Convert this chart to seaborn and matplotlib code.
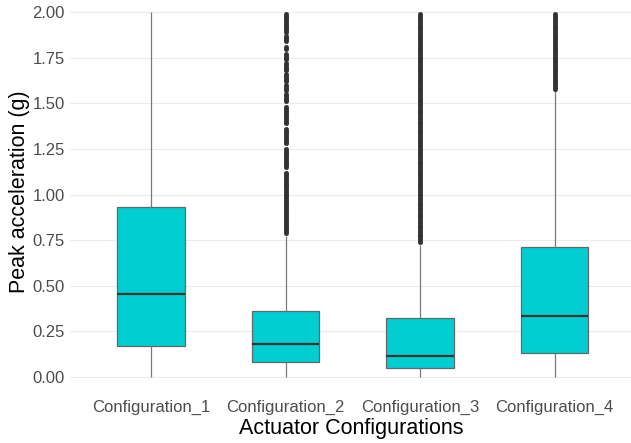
import numpy as np
import pandas as pd
import matplotlib
matplotlib.use("Agg")
import matplotlib.pyplot as plt
import seaborn as sns

# ---- data ----
categories = ["Configuration_1", "Configuration_2", "Configuration_3", "Configuration_4"]
whisker_low = [0.0, 0.0, 0.0, 0.0]
q1 = [0.171, 0.080, 0.051, 0.133]
medians = [0.455, 0.181, 0.117, 0.334]
q3 = [0.932, 0.362, 0.323, 0.711]
whisker_high = [2.00, 0.775, 0.725, 1.570]

fliers_1 = []
fliers_2 = [0.79, 0.80, 0.81, 0.82, 0.83, 0.84, 0.85, 0.86, 0.87, 0.88, 0.89,
            0.90, 0.91, 0.92, 0.93, 0.94, 0.95, 0.96, 0.97, 0.98, 0.99, 1.00,
            1.01, 1.02, 1.03, 1.04, 1.05, 1.06, 1.07, 1.08, 1.09, 1.10, 1.11,
            1.12, 1.15, 1.16, 1.17, 1.18, 1.19, 1.20, 1.21, 1.22, 1.23, 1.24,
            1.25, 1.28, 1.29, 1.30, 1.31, 1.32, 1.33, 1.34, 1.35, 1.36, 1.39,
            1.40, 1.41, 1.42, 1.43, 1.44, 1.45, 1.46, 1.47, 1.48, 1.51, 1.52,
            1.53, 1.54, 1.55, 1.57, 1.58, 1.59, 1.60, 1.62, 1.63, 1.64, 1.65,
            1.66, 1.68, 1.69, 1.70, 1.71, 1.72, 1.74, 1.75, 1.76, 1.77, 1.80,
            1.81, 1.84, 1.85, 1.86, 1.87, 1.89, 1.90, 1.91, 1.92, 1.93, 1.94,
            1.95, 1.96, 1.97, 1.98, 1.99]
fliers_3 = [0.74, 0.75, 0.76, 0.77, 0.78, 0.79, 0.80, 0.81, 0.82, 0.83, 0.84,
            0.85, 0.86, 0.87, 0.88, 0.89, 0.90, 0.91, 0.92, 0.93, 0.94, 0.95,
            0.96, 0.97, 0.98, 0.99, 1.00, 1.01, 1.02, 1.03, 1.04, 1.05, 1.06,
            1.07, 1.08, 1.09, 1.10, 1.11, 1.12, 1.13, 1.14, 1.15, 1.16, 1.17,
            1.18, 1.19, 1.20, 1.21, 1.22, 1.23, 1.24, 1.25, 1.26, 1.27, 1.28,
            1.29, 1.30, 1.31, 1.32, 1.33, 1.34, 1.35, 1.36, 1.37, 1.38, 1.39,
            1.40, 1.41, 1.42, 1.43, 1.44, 1.45, 1.46, 1.47, 1.48, 1.49, 1.50,
            1.51, 1.52, 1.53, 1.54, 1.55, 1.56, 1.57, 1.58, 1.59, 1.60, 1.61,
            1.62, 1.63, 1.64, 1.65, 1.66, 1.67, 1.68, 1.69, 1.70, 1.71, 1.72,
            1.73, 1.74, 1.75, 1.76, 1.77, 1.78, 1.79, 1.80, 1.81, 1.82, 1.83,
            1.84, 1.85, 1.86, 1.87, 1.88, 1.89, 1.90, 1.91, 1.92, 1.93, 1.94,
            1.95, 1.96, 1.97, 1.98, 1.99]
fliers_4 = [1.58, 1.59, 1.60, 1.61, 1.62, 1.63, 1.64, 1.65, 1.66, 1.67, 1.68,
            1.69, 1.70, 1.71, 1.72, 1.73, 1.74, 1.75, 1.76, 1.77, 1.78, 1.79,
            1.80, 1.81, 1.82, 1.83, 1.84, 1.85, 1.86, 1.87, 1.88, 1.89, 1.90,
            1.91, 1.92, 1.93, 1.94, 1.95, 1.96, 1.97, 1.98, 1.99]
fliers = [fliers_1, fliers_2, fliers_3, fliers_4]

x_title = "Actuator Configurations"
y_title = "Peak acceleration (g)"
y_ticks = [0.0, 0.25, 0.5, 0.75, 1.0, 1.25, 1.5, 1.75, 2.0]

# ---- rebuild observations that reproduce the five-number summaries ----
rows = []
K = 400
for i, cat in enumerate(categories):
    vals = ([whisker_low[i]] + [q1[i]] * K + [medians[i]] * K + [q3[i]] * K
            + [whisker_high[i]] + list(fliers[i]))
    rows.extend((cat, v) for v in vals)
df = pd.DataFrame(rows, columns=["config", "accel"])

# ---- plot ----
sns.set_theme(style="white")
plt.rcParams["font.family"] = ["Liberation Sans", "DejaVu Sans"]

W, H = 631, 443
fig = plt.figure(figsize=(W / 100, H / 100), dpi=100)
left_px, right_px = 70.3, 631.2
bottom_px, top_px = 395.25, -6.25
ax = fig.add_axes([left_px / W, 1 - bottom_px / H,
                   (right_px - left_px) / W, (bottom_px - top_px) / H])

sns.boxplot(data=df, x="config", y="accel", order=categories, ax=ax,
            color="#00CED1", saturation=1, width=0.5,
            linecolor="#666666", linewidth=0.9, showcaps=False,
            whiskerprops=dict(color="#7a7a7a", linewidth=0.9),
            medianprops=dict(color="#333333", linewidth=1.6),
            flierprops=dict(marker="o", markerfacecolor="#333333",
                            markeredgecolor="#333333", markersize=3.3,
                            markeredgewidth=0.3))

ax.set_xlim(-0.6, 3.57)
ax.set_ylim(-0.1, 2.1)
ax.set_yticks(y_ticks)
ax.set_yticklabels([f"{t:.2f}" for t in y_ticks])
ax.grid(axis="y", color="#EBEBEB", linewidth=0.8)
ax.grid(axis="x", visible=False)
ax.set_axisbelow(True)
for s in ax.spines.values():
    s.set_visible(False)
ax.tick_params(axis="both", length=0, labelsize=12, labelcolor="#4D4D4D")
ax.tick_params(axis="x", pad=3.5)
ax.tick_params(axis="y", pad=4)

ax.set_xlabel(x_title, fontsize=15.5, color="black")
ax.set_ylabel(y_title, fontsize=15.5, color="black")
ax.xaxis.set_label_coords(0.5, -0.056)
ax.yaxis.set_label_coords((30 - left_px) / (right_px - left_px),
                          (bottom_px - 192) / (bottom_px - top_px))

fig.savefig("out.png", dpi=100)
